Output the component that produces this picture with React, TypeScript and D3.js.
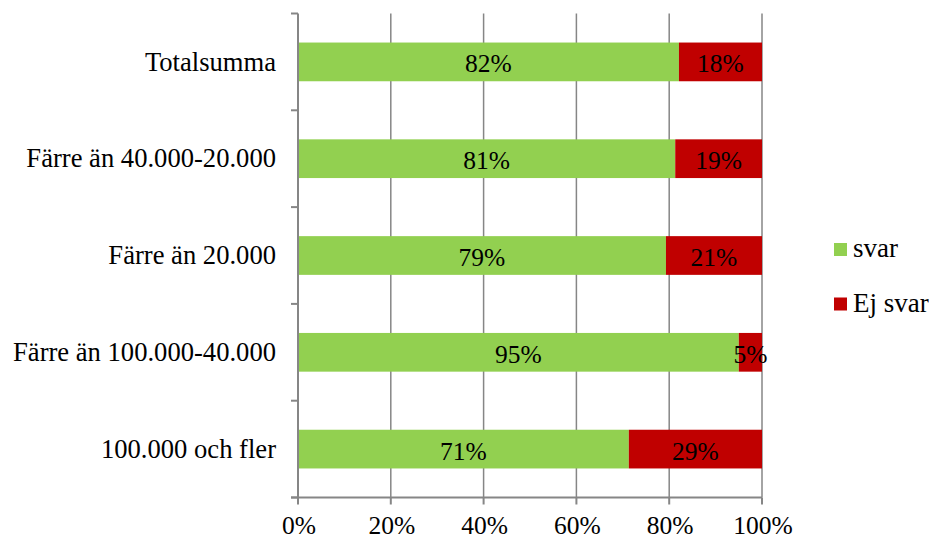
import React from "react";
import * as d3 from "d3";

const categories = [
  "Totalsumma",
  "Färre än 40.000-20.000",
  "Färre än 20.000",
  "Färre än 100.000-40.000",
  "100.000 och fler",
];
const svarValues = [82.1, 81.3, 79.3, 95.0, 71.3];
const ejSvarValues = [17.9, 18.7, 20.7, 5.0, 28.7];
const xTicks = [0, 20, 40, 60, 80, 100];
const seriesNames = ["svar", "Ej svar"];
const seriesColors = ["#92D050", "#C00000"];

const W = 929;
const H = 539;
const left = 298;
const right = 762;
const top = 13.5;
const bottom = 497.5;
const FONT = "'Liberation Serif', 'Times New Roman', serif";
const AXIS = "#868686";

export default function App() {
  const x = d3.scaleLinear().domain([0, 100]).range([left, right]);
  const y = d3
    .scaleBand<string>()
    .domain(categories)
    .range([top, bottom])
    .paddingInner(0.6)
    .paddingOuter(0.3);
  const step = y.step();
  const boundaries = d3.range(categories.length + 1).map((i) => top + i * step);

  const rows = categories.map((c, i) => {
    const segs = [svarValues[i], ejSvarValues[i]];
    let acc = 0;
    return segs.map((v, k) => {
      const x0 = acc;
      acc += v;
      return { c, k, v, x0, x1: acc };
    });
  });

  return (
    <svg
      width={W}
      height={H}
      style={{ position: "absolute", left: 0, top: 0, background: "#fff" }}
      fontFamily={FONT}
    >
      {xTicks.slice(1).map((t) => (
        <line key={"g" + t} x1={x(t)} x2={x(t)} y1={top} y2={bottom} stroke={AXIS} strokeWidth={1.5} />
      ))}
      {rows.map((segs) =>
        segs.map((s) => (
          <g key={s.c + s.k}>
            <rect
              x={x(s.x0)}
              y={y(s.c)}
              width={x(s.x1) - x(s.x0)}
              height={y.bandwidth()}
              fill={seriesColors[s.k]}
            />
            <text
              x={(x(s.x0) + x(s.x1)) / 2}
              y={(y(s.c) as number) + y.bandwidth() / 2 + 10.5}
              textAnchor="middle"
              fontSize={25.5}
              fill="#000"
            >
              {Math.round(s.v)}%
            </text>
          </g>
        ))
      )}
      {/* y axis */}
      <line x1={left} x2={left} y1={top} y2={bottom} stroke={AXIS} strokeWidth={2} />
      {boundaries.map((b, i) => (
        <line key={"yt" + i} x1={left - 7} x2={left} y1={b} y2={b} stroke={AXIS} strokeWidth={2} />
      ))}
      {categories.map((c) => (
        <text
          key={"yl" + c}
          x={276}
          y={(y(c) as number) + y.bandwidth() / 2 + 8.6}
          textAnchor="end"
          fontSize={26.6}
          fill="#000"
        >
          {c}
        </text>
      ))}
      {/* x axis */}
      <line x1={left - 7} x2={right} y1={bottom} y2={bottom} stroke={AXIS} strokeWidth={2} />
      {xTicks.map((t) => (
        <g key={"xt" + t}>
          <line x1={x(t)} x2={x(t)} y1={bottom} y2={bottom + 7} stroke={AXIS} strokeWidth={2} />
          <text x={x(t) + 1} y={533.5} textAnchor="middle" fontSize={25.5} fill="#000">
            {t}%
          </text>
        </g>
      ))}
      {/* legend */}
      {seriesNames.map((n, i) => (
        <g key={"lg" + n} transform={`translate(834, ${243 + i * 54.5})`}>
          <rect x={0} y={0} width={13} height={13} fill={seriesColors[i]} />
          <text x={19} y={14.3} fontSize={27} fill="#000">
            {n}
          </text>
        </g>
      ))}
    </svg>
  );
}
